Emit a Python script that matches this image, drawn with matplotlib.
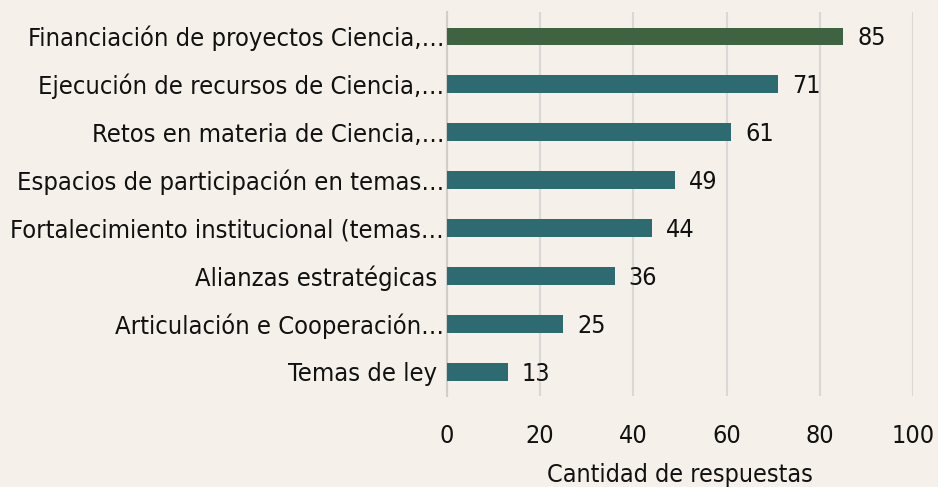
import matplotlib
matplotlib.use('Agg')
import matplotlib.pyplot as plt

categories = [
    'Financiación de proyectos Ciencia,…',
    'Ejecución de recursos de Ciencia,…',
    'Retos en materia de Ciencia,…',
    'Espacios de participación en temas…',
    'Fortalecimiento institucional (temas…',
    'Alianzas estratégicas ',
    'Articulación e Cooperación…',
    'Temas de ley ',
]
values = [85, 71, 61, 49, 44, 36, 25, 13]
x_ticks = [0, 20, 40, 60, 80, 100]
x_label = 'Cantidad de respuestas'

bg = '#f5f0ea'
teal = '#2e6b70'
green = '#3e6340'

plt.rcParams['font.family'] = ['DejaVu Sans']
plt.rcParams['font.stretch'] = 'condensed'

fig = plt.figure(figsize=(9.38, 4.87), dpi=100, facecolor=bg)
ax = fig.add_axes([0.4765, 0.187, 0.4968, 0.788])
ax.set_facecolor(bg)

ypos = list(range(len(values)))
colors = [green] + [teal] * (len(values) - 1)
ax.barh(ypos, values, height=0.36, color=colors, zorder=3)
for y, v in zip(ypos, values):
    ax.text(v + 3.0, y + 0.04, str(v), va='center', ha='left', fontsize=18, color='#111111')

ax.set_yticks(ypos)
ax.set_yticklabels(categories, fontsize=18.3, color='#111111')
ax.invert_yaxis()
ax.set_ylim(len(values) - 0.5, -0.5)
ax.set_xlim(0, 100)
ax.set_xticks(x_ticks)
ax.tick_params(axis='x', labelsize=18, colors='#111111', length=0, pad=20)
ax.tick_params(axis='y', length=0, pad=2)
ax.set_xlabel(x_label, fontsize=18, color='#111111', labelpad=11)
ax.grid(axis='x', color='#dad8d5', linewidth=1.5, zorder=0)
for s in ['top', 'right', 'bottom']:
    ax.spines[s].set_visible(False)
ax.spines['left'].set_color('#d0ceca')
ax.spines['left'].set_linewidth(1.5)

fig.savefig('out.png', dpi=100, facecolor=bg)
